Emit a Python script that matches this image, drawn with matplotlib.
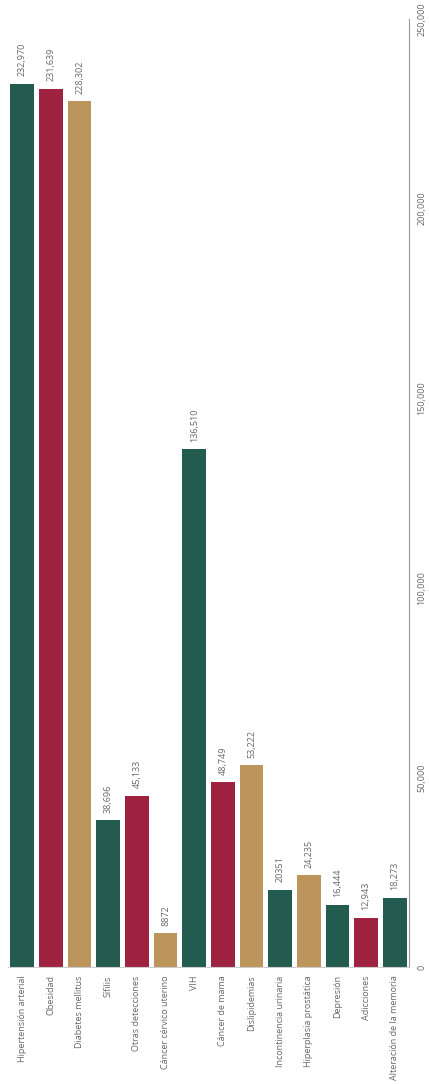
import matplotlib.pyplot as plt

categorias = ['Hipertensión arterial', 'Obesidad', 'Diabetes mellitus', 'Sífilis',
              'Otras detecciones', 'Cáncer cérvico uterino', 'VIH', 'Cáncer de mama',
              'Dislipidemias', 'Incontinencia urinaria', 'Hiperplasia prostática',
              'Depresión', 'Adicciones', 'Alteración de la memoria']
valores = [232970, 231639, 228302, 38696, 45133, 8872, 136510, 48749,
           53222, 20351, 24235, 16444, 12943, 18273]
etiquetas = ['232,970', '231,639', '228,302', '38,696', '45,133', '8872', '136,510',
             '48,749', '53,222', '20351', '24,235', '16,444', '12,943', '18,273']

verde = '#235b4e'
rojo = '#9f2241'
oro = '#bc955c'
colores = [verde, rojo, oro, verde, rojo, oro, verde, rojo, oro, verde, oro, verde, rojo, verde]

plt.rcParams['font.family'] = ['Open Sans', 'DejaVu Sans']
gris = '#666666'

fig = plt.figure(figsize=(4.29, 10.84), dpi=100)
ax = fig.add_axes([8 / 429, 117 / 1084, 401 / 429, 948 / 1084])

x = range(len(categorias))
ax.bar(x, valores, width=0.83, color=colores)

for i, v in enumerate(valores):
    ax.text(i, v + 2000, etiquetas[i], rotation=90, ha='center', va='bottom',
            fontsize=6.5, color=gris)

ax.set_xlim(-0.5, len(categorias) - 0.5)
ax.set_ylim(0, 250000)
ax.set_xticks(list(x))
ax.set_xticklabels(categorias, rotation=90, fontsize=6.5, color=gris)
ax.tick_params(axis='x', length=0, pad=6)

ax.yaxis.tick_right()
ax.set_yticks([0, 50000, 100000, 150000, 200000, 250000])
ax.set_yticklabels(['0', '50,000', '100,000', '150,000', '200,000', '250,000'],
                   rotation=90, va='center', fontsize=6.5, color=gris)
ax.tick_params(axis='y', length=0, pad=6)

for s in ['top', 'left']:
    ax.spines[s].set_visible(False)
ax.spines['right'].set_color('#999999')
ax.spines['bottom'].set_color('#cccccc')
ax.spines['right'].set_linewidth(0.8)

fig.savefig('out.png', dpi=100)
